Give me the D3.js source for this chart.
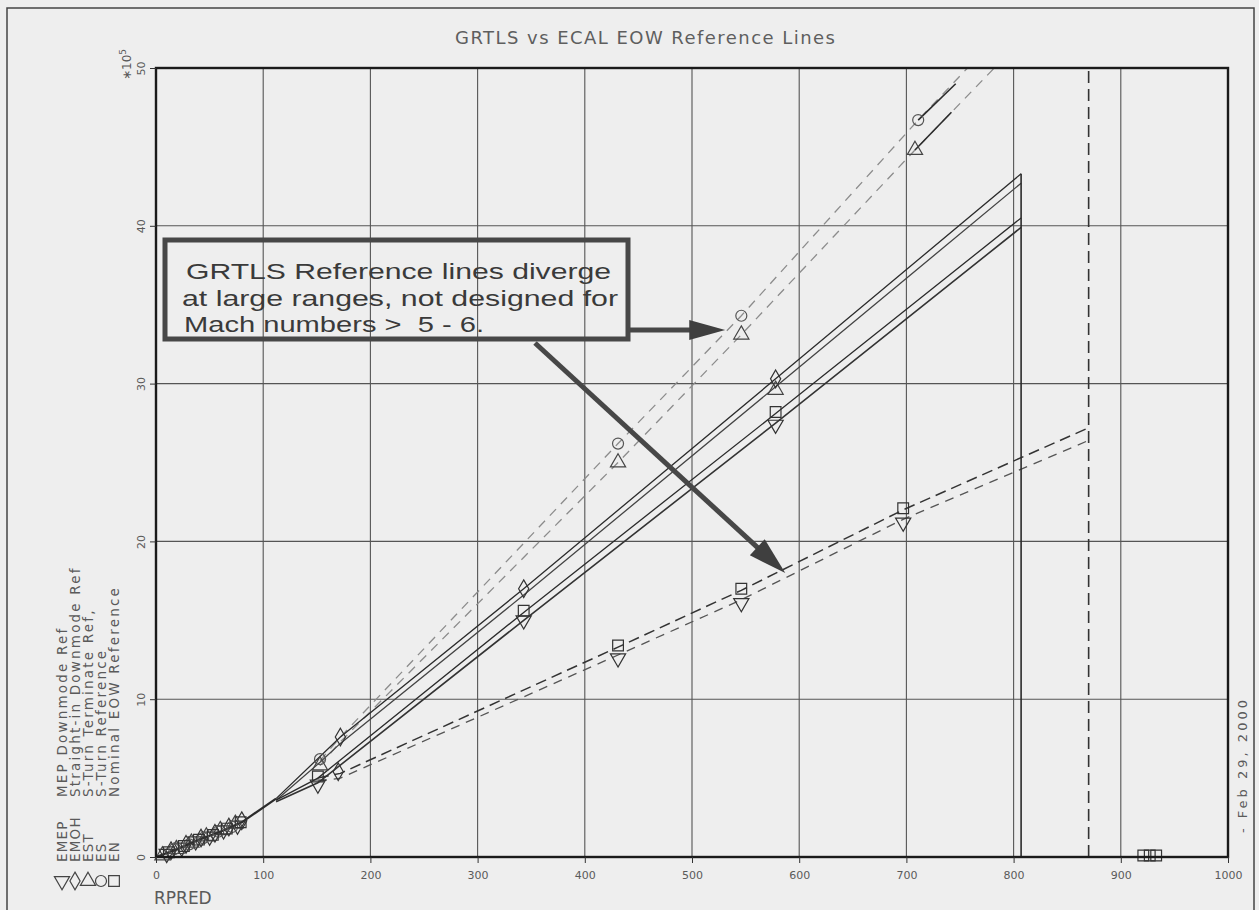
<!DOCTYPE html>
<html><head><meta charset="utf-8">
<script src="https://cdn.jsdelivr.net/npm/d3@7"></script>
<style>
body{margin:0;background:#eeeeee;}
svg{display:block;}
</style></head><body>
<svg id="c" width="1259" height="910"></svg>
<script>
// ---------- data ----------
const xTicks = [0,100,200,300,400,500,600,700,800,900,1000];
const yTicks = [0,10,20,30,40,50];
const titleText = "GRTLS vs ECAL EOW Reference Lines";
const xLabel = "RPRED";
const dateText = "- Feb 29, 2000";
const legendSymbols = ["tdown","diamond","triangle","circle","square"];
const legendCodes = ["EMEP","EMOH","EST","ES","EN"];
const legendNames = ["MEP Downmode Ref","Straight-in Downmode Ref","S-Turn Terminate Ref,","S-Turn Reference","Nominal EOW Reference"];
const noteLines = ["GRTLS Reference lines diverge","at large ranges, not designed for","Mach numbers >  5 - 6."];

// shared low-range segment (all references)
const commonLine = [[0,0],[20,0.5],[40,1.1],[60,1.6],[80,2.2],[112,3.7]];
// solid references
const emohSolid = [[112,3.7],[172,7.6],[343,17.0],[578,30.3],[807,43.3]];
const estSolid  = [[112,3.6],[153,6.0],[172,7.2],[343,16.6],[578,29.8],[807,42.7]];
const enSolid   = [[112,3.6],[151,5.0],[343,15.5],[578,28.1],[807,40.5]];
const emepSolid = [[112,3.5],[151,4.7],[343,15.0],[578,27.5],[807,39.9]];
const solidDrop = [[807,43.3],[807,0]];
// upper dashed (light) references
const esDash  = [[153,6.1],[172,7.6],[431,26.2],[546,34.3],[711,46.7],[757,50]];
const estDash = [[153,5.8],[172,7.3],[431,25.0],[546,33.1],[708,44.8],[782,50]];
const esTop   = [[711,46.7],[746,49.0]];
const estTop  = [[708,44.8],[742,47.2]];
// lower dashed references
const enDash   = [[151,5.0],[172,5.3],[431,13.3],[546,16.9],[697,22.0],[870,27.2]];
const emepDash = [[151,4.8],[172,5.0],[431,12.8],[546,16.3],[697,21.4],[870,26.4]];
const limitDash = [[870,0],[870,50]];

// markers
const mkTdown   = [[10,0.2],[24,0.6],[37,1.0],[50,1.3],[63,1.7],[76,2.0],[151,4.6],[343,15.0],[578,27.4],[431,12.6],[546,16.1],[697,21.2]];
const mkDiamond = [[14,0.4],[28,0.8],[42,1.2],[55,1.5],[68,1.9],[80,2.3],[172,7.6],[170,5.4],[343,17.0],[578,30.3]];
const mkTriangle= [[6,0.1],[19,0.5],[33,0.9],[47,1.3],[60,1.7],[74,2.1],[153,5.8],[578,29.6],[431,25.0],[546,33.1],[708,44.8]];
const mkCircle  = [[17,0.5],[31,0.8],[44,1.2],[58,1.6],[71,1.9],[153,6.2],[431,26.2],[546,34.3],[711,46.7]];
const mkSquare  = [[12,0.3],[26,0.7],[40,1.1],[53,1.4],[66,1.8],[79,2.2],[151,5.1],[343,15.6],[578,28.2],[431,13.4],[546,17.0],[697,22.1],[921,0.1],[927,0.1],[933,0.1]];

// annotation anchors (data coordinates of arrow tips)
const arrowTipA = [531, 33.4];
const arrowTipB = [587, 18.0];

// ---------- drawing ----------
const svg = d3.select("#c");
const W = 1259, H = 910;
const x = d3.scaleLinear().domain([0,1000]).range([156,1228]);
const y = d3.scaleLinear().domain([0,50]).range([857,68]);
const ink = "#2b2b2b", grey = "#5a5a5a";

svg.append("rect").attr("width",W).attr("height",H).attr("fill","#eeeeee");
// page frame
svg.append("rect").attr("x",7).attr("y",8).attr("width",1247).attr("height",940)
  .attr("fill","none").attr("stroke","#444").attr("stroke-width",1.5);

// grid
const g = svg.append("g");
g.selectAll(".vg").data(xTicks).join("line")
  .attr("x1",d=>x(d)).attr("x2",d=>x(d)).attr("y1",y(50)).attr("y2",y(0))
  .attr("stroke","#555").attr("stroke-width",1.1);
g.selectAll(".hg").data(yTicks).join("line")
  .attr("y1",d=>y(d)).attr("y2",d=>y(d)).attr("x1",x(0)).attr("x2",x(1000))
  .attr("stroke","#555").attr("stroke-width",1.1);

const line = d3.line().x(d=>x(d[0])).y(d=>y(d[1]));
function draw(data, color, w, dash){
  svg.append("path").attr("d",line(data)).attr("fill","none")
    .attr("stroke",color).attr("stroke-width",w)
    .attr("stroke-dasharray",dash||null);
}
// upper dashed light
draw(esDash,"#8c8c8c",1.3,"9,7");
draw(estDash,"#8c8c8c",1.3,"9,7");
draw(esTop,ink,1.6);
draw(estTop,ink,1.6);
// lower dashed
draw(enDash,"#333",1.5,"11,6");
draw(emepDash,"#555",1.3,"9,7");
// solid
draw(commonLine,ink,2.2);
draw(emohSolid,ink,1.3);
draw(estSolid,"#444",1.3);
draw(enSolid,ink,1.3);
draw(emepSolid,"#333",1.6);
draw(solidDrop,ink,1.6);
draw(limitDash,"#333",1.6,"12,6");

// markers
const symType = {tdown:d3.symbolTriangle, triangle:d3.symbolTriangle, diamond:d3.symbolDiamond, circle:d3.symbolCircle, square:d3.symbolSquare};
const symSize = {tdown:100, triangle:100, diamond:90, circle:95, square:115};
function marks(data, kind, color){
  svg.append("g").selectAll("path").data(data).join("path")
    .attr("d", d3.symbol().type(symType[kind]).size(symSize[kind]))
    .attr("transform", d=>`translate(${x(d[0])},${y(d[1])})` + (kind==="tdown"?" rotate(180)":""))
    .attr("fill","none").attr("stroke",color).attr("stroke-width",1.2);
}
marks(mkTdown,"tdown","#333");
marks(mkDiamond,"diamond","#333");
marks(mkTriangle,"triangle","#444");
marks(mkCircle,"circle","#555");
marks(mkSquare,"square","#333");

// plot frame
svg.append("rect").attr("x",x(0)).attr("y",y(50)).attr("width",x(1000)-x(0)).attr("height",y(0)-y(50))
  .attr("fill","none").attr("stroke","#1a1a1a").attr("stroke-width",2.4);

// x axis
const xa = svg.append("g").attr("transform",`translate(0,${y(0)})`)
  .call(d3.axisBottom(x).tickValues(xTicks).tickSize(6).tickPadding(8).tickFormat(d3.format("d")));
xa.select(".domain").remove();
xa.selectAll("line").attr("stroke","#333");
xa.selectAll("text").attr("font-family","DejaVu Sans").attr("font-size",11).attr("fill",grey);

// y axis (rotated labels)
const ya = svg.append("g").attr("transform",`translate(${x(0)},0)`)
  .call(d3.axisLeft(y).tickValues(yTicks).tickSize(6).tickFormat(d3.format("d")));
ya.select(".domain").remove();
ya.selectAll("line").attr("stroke","#333");
ya.selectAll("text").attr("font-family","DejaVu Sans").attr("font-size",11).attr("fill",grey)
  .attr("transform","rotate(-90)").attr("x",0).attr("y",-11).attr("dy",0).attr("text-anchor","middle");

// exponent label
const ex = svg.append("text").attr("transform","translate(131,80) rotate(-90)")
  .attr("font-family","DejaVu Sans").attr("font-size",12).attr("fill",grey);
ex.append("tspan").text("\u221710");
ex.append("tspan").attr("dy",-5).attr("font-size",9).text("5");

// title
svg.append("text").attr("x",645).attr("y",44).attr("text-anchor","middle")
  .attr("font-family","DejaVu Sans").attr("font-size",18).attr("fill","#5e5e5e")
  .attr("textLength",380).attr("lengthAdjust","spacing").text(titleText);

// x label
svg.append("text").attr("x",154).attr("y",904).attr("font-family","DejaVu Sans")
  .attr("font-size",17).attr("fill",grey).text(xLabel);

// date
svg.append("text").attr("transform","translate(1247,833) rotate(-90)")
  .attr("font-family","DejaVu Sans").attr("font-size",13).attr("fill",grey)
  .attr("textLength",133).attr("lengthAdjust","spacing").text(dateText);

// legend
const legX = d3.scalePoint().domain(legendCodes).range([62,114]);
legendCodes.forEach((c,i)=>{
  const cx = legX(c);
  svg.append("path").attr("d",d3.symbol().type(symType[legendSymbols[i]]).size(symSize[legendSymbols[i]])())
    .attr("transform",`translate(${cx},881)`+(legendSymbols[i]==="tdown"?" rotate(180)":""))
    .attr("fill","none").attr("stroke","#444").attr("stroke-width",1.2);
  svg.append("text").attr("transform",`translate(${cx+5},862) rotate(-90)`)
    .attr("font-family","DejaVu Sans").attr("font-size",13.5).attr("fill",grey)
    .attr("letter-spacing",1.2).text(c);
  svg.append("text").attr("transform",`translate(${cx+5},797) rotate(-90)`)
    .attr("font-family","DejaVu Sans").attr("font-size",13.5).attr("fill",grey)
    .attr("letter-spacing",2.2).text(legendNames[i]);
});

// annotation box
svg.append("rect").attr("x",165).attr("y",240).attr("width",463).attr("height",99)
  .attr("fill","none").attr("stroke","#474747").attr("stroke-width",5);
const noteX = [186,182,184], noteY = [279,306,332], noteLen = [425,436,300];
noteLines.forEach((t,i)=>{
  svg.append("text").attr("x",noteX[i]).attr("y",noteY[i]).style("white-space","pre")
    .attr("font-family","Liberation Sans").attr("font-size",22).attr("fill","#3a3a3a")
    .attr("textLength",noteLen[i]).attr("lengthAdjust","spacingAndGlyphs").text(t);
});
function arrow(x0,y0,tip,headLen,headHalf){
  const tx=x(tip[0]), ty=y(tip[1]);
  const dx=tx-x0, dy=ty-y0, L=Math.hypot(dx,dy), ux=dx/L, uy=dy/L;
  const bx=tx-ux*headLen, by=ty-uy*headLen;
  svg.append("line").attr("x1",x0).attr("y1",y0).attr("x2",bx+ux*2).attr("y2",by+uy*2)
    .attr("stroke","#474747").attr("stroke-width",5);
  svg.append("path").attr("d",`M${tx},${ty}L${bx-uy*headHalf},${by+ux*headHalf}L${bx+uy*headHalf},${by-ux*headHalf}Z`)
    .attr("fill","#3f3f3f");
}
arrow(628,330,arrowTipA,36,10);
arrow(535,343,arrowTipB,38,11);
</script>
</body></html>
